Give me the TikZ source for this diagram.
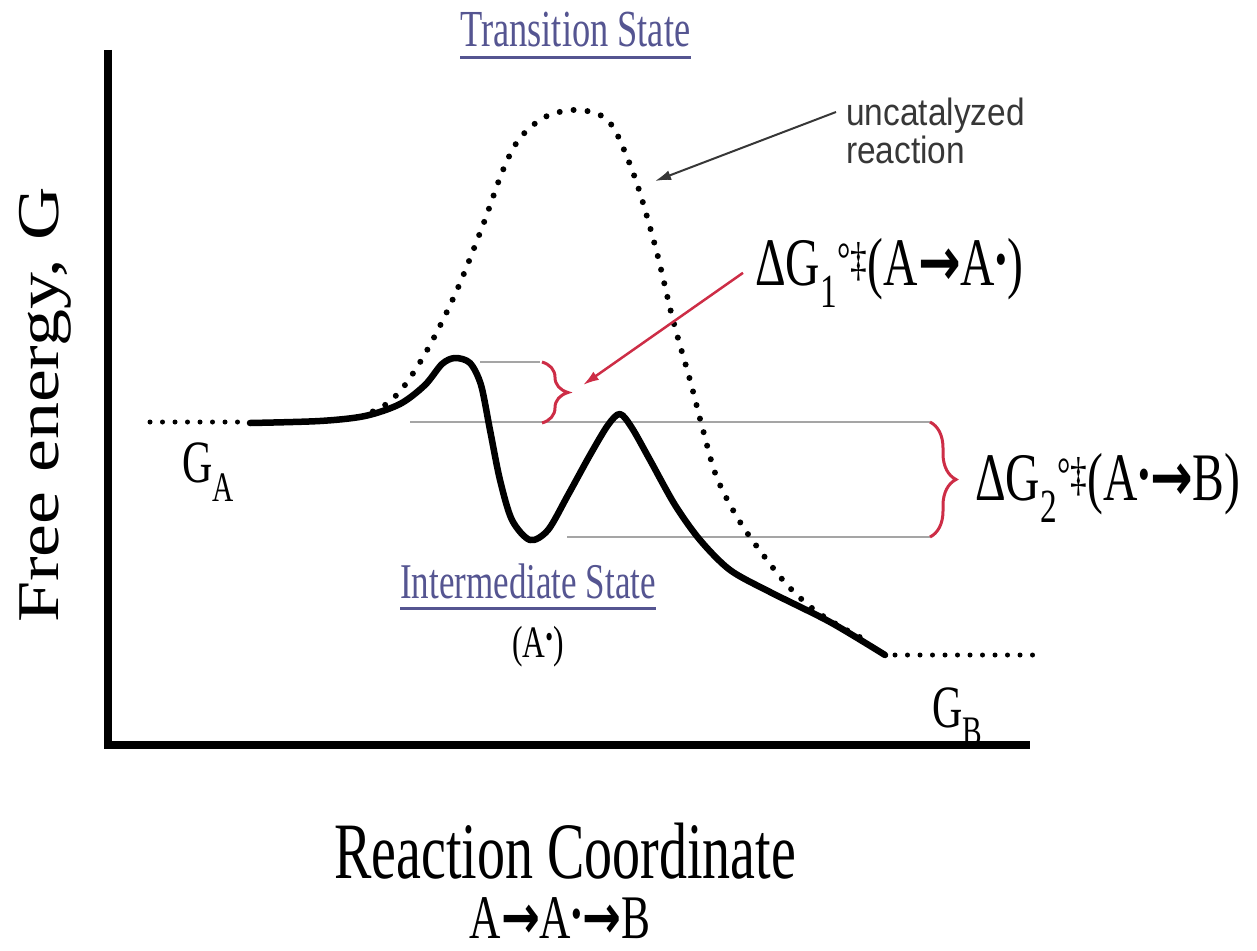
\documentclass[tikz,border=0pt]{standalone}
\usepackage{fontspec}
\setmainfont{Liberation Serif}
\newfontfamily\narrowserif{Liberation Serif}[FakeStretch=0.7]
\newfontfamily\narrowsans{Liberation Sans}[FakeStretch=0.88]
\newfontfamily\arrowglyph{DejaVu Sans}[FakeStretch=0.75]
\newcommand\fatarrow{{\arrowglyph\bfseries →}}
\usepackage{graphicx}
\usepackage{xcolor}
\usetikzlibrary{arrows.meta,decorations.pathreplacing}
\definecolor{stateblue}{RGB}{85,85,145}
\definecolor{bracered}{RGB}{205,45,70}
\definecolor{guidegray}{RGB}{165,165,165}
\definecolor{notegray}{RGB}{55,55,55}

\begin{document}
\begin{tikzpicture}[x=1pt,y=-1pt,>=Latex,
  axisline/.style={line width=8pt,line join=miter},
  catalyzed/.style={line width=6.5pt,line cap=round,line join=round},
  uncatpath/.style={line width=6pt,line cap=round,dash pattern=on 0pt off 14pt},
  tailline/.style={line width=5pt,line cap=round,dash pattern=on 0pt off 12.5pt},
  guide/.style={draw=guidegray,line width=2pt},
  energybrace/.style={draw=bracered,line width=3pt,decorate,decoration={brace,amplitude=#1}},
  serif/.style={inner sep=0pt,font=\narrowserif\fontsize{#1}{#1}\selectfont},
  statelabel/.style={inner ysep=10pt,text=stateblue,append after command={(\tikzlastnode.south west) edge[draw=stateblue,line width=3pt] (\tikzlastnode.south east)}},
  pointer/.style={-{Latex[length=16pt,width=10pt]},line width=2pt,draw=notegray},
  redpointer/.style={-{Latex[length=16pt,width=10pt]},line width=2.5pt,draw=bracered}]
\useasboundingbox (0,0) rectangle (1257,950);
\draw[axisline] (108,50) -- (108,745) -- (1030,745);
\node[rotate=90,inner sep=0pt,font=\fontsize{74}{74}\selectfont] (yaxis) at (45,405) {\scalebox{1}[0.8]{Free energy, G}};
\node[serif=80,anchor=base] (xaxis) at (565,878) {Reaction Coordinate};
\node[serif=62,anchor=base] (xpath) at (560,938) {A\fatarrow A\textsuperscript{•}\fatarrow B};
\draw[guide] (480,362) -- (540,362);
\draw[guide] (410,422) -- (930,422);
\draw[guide] (567,537) -- (930,537);
\draw[tailline] (150,422) -- (245,422);
\draw[tailline] (895,655) -- (1040,655);
\draw[uncatpath] plot[smooth,tension=0.55] coordinates {(360,417) (385,405) (405,385) (430,345) (457,290) (483,225) (503,170) (520,138) (545,117) (573,110) (598,114) (613,127) (627,157) (640,193) (657,253) (673,320) (690,380) (703,430) (717,478) (740,522) (767,560) (790,588) (817,612) (850,632) (870,642)};
\draw[catalyzed] plot[smooth,tension=0.5] coordinates {(250,423) (320,421) (365,416) (400,404) (425,385) (442,364) (455,358) (470,363) (481,385) (490,430) (500,480) (512,520) (530,540) (548,530) (568,495) (590,455) (608,425) (620,414) (632,428) (650,460) (675,505) (700,540) (730,570) (770,592) (830,622) (885,655)};
\node[serif=52,statelabel,anchor=base west] (ts) at (460,47) {Transition State};
\node[serif=50,statelabel,anchor=base west] (is) at (400,598) {Intermediate State};
\node[serif=45,anchor=base] (isname) at (538,657) {(A\textsuperscript{•})};
\node[serif=60,anchor=base west] (ga) at (182,482) {G\textsubscript{A}};
\node[serif=60,anchor=base west] (gb) at (932,727) {G\textsubscript{B}};
\node[anchor=north west,align=left,inner sep=0pt,text=notegray,font=\narrowsans\fontsize{38}{38}\selectfont] (unc) at (846,98) {uncatalyzed\\reaction};
\coordinate (uncatTip) at (655,181);
\draw[pointer] ([shift={(-10,14)}]unc.north west) -- (uncatTip);
\node[serif=68,anchor=base west] (dg1) at (755,285) {ΔG\textsubscript{1}\textsuperscript{°‡}(A\fatarrow A\textsuperscript{•})};
\node[serif=68,anchor=base west] (dg2) at (975,500) {ΔG\textsubscript{2}\textsuperscript{°‡}(A\textsuperscript{•}\fatarrow B)};
\coordinate (b1top) at (542,362);
\coordinate (b1bot) at (542,423);
\draw[energybrace=26pt] (b1top) -- (b1bot);
\coordinate (b2top) at (930,422);
\coordinate (b2bot) at (930,537);
\draw[energybrace=26pt] (b2top) -- (b2bot);
\coordinate (barrierTip) at (583,385);
\draw[redpointer] ([xshift=-12pt]dg1.west) -- (barrierTip);
\end{tikzpicture}
\end{document}
